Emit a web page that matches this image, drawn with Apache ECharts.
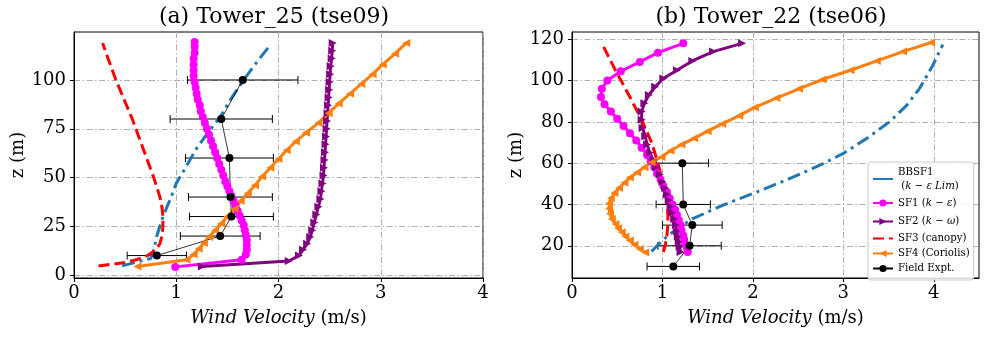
<!DOCTYPE html>
<html>
<head>
<meta charset="utf-8">
<title>Wind velocity profiles</title>
<script src="https://cdn.jsdelivr.net/npm/echarts@6/dist/echarts.min.js"></script>
<style>
  html, body { margin: 0; padding: 0; background: #fff; }
  #chart { width: 990px; height: 337px; }
</style>
</head>
<body>
<div id="chart"></div>
<script>
// ---- (a) Tower_25 (tse09) ----
const bbsf1Z_a = [4.7, 8.5, 11, 15, 20, 25, 30, 35, 40, 47, 55, 65, 73, 81, 90, 100, 110, 118];
const bbsf1V_a = [0.47, 0.75, 0.77, 0.79, 0.81, 0.84, 0.87, 0.91, 0.95, 1.00, 1.09, 1.20, 1.31, 1.43, 1.53, 1.66, 1.80, 1.92];

const sf1Z_a = [4.2, 7.8, 10.5, 13, 15.5, 18, 20.5, 23, 25.5, 28, 30.5, 33, 35.5, 38, 40.5, 43, 45.5, 48,
  51, 54, 57, 60, 63, 66, 69, 72, 75, 78, 81, 84, 87, 90, 93, 96, 99, 102, 105, 108, 111, 114, 117, 119.5];
const sf1V_a = [0.99, 1.64, 1.68, 1.69, 1.69, 1.69, 1.68, 1.67, 1.66, 1.64, 1.62, 1.60, 1.58, 1.56, 1.54, 1.52, 1.50, 1.48,
  1.46, 1.44, 1.42, 1.40, 1.38, 1.36, 1.34, 1.32, 1.30, 1.28, 1.26, 1.24, 1.23, 1.21, 1.20, 1.19, 1.18, 1.17, 1.17, 1.17, 1.17, 1.18, 1.18, 1.18];

const sf2Z_a = [4.4, 7.2, 10, 13, 16, 19.5, 23, 27, 31, 35, 39, 43, 47, 51, 55, 59, 63, 67, 71, 75, 79, 83, 87, 91, 95, 99, 103, 107, 111, 115, 119];
const sf2V_a = [1.25, 2.10, 2.20, 2.24, 2.28, 2.31, 2.33, 2.35, 2.37, 2.39, 2.41, 2.42, 2.43, 2.44, 2.445, 2.45, 2.455, 2.46, 2.465, 2.47,
  2.475, 2.48, 2.485, 2.49, 2.495, 2.50, 2.505, 2.51, 2.52, 2.525, 2.53];

const sf3Z_a = [4.6, 6.5, 8, 10, 12.5, 16, 20, 25, 30, 35, 40, 45, 50, 60, 70, 80, 90, 100, 110, 119];
const sf3V_a = [0.24, 0.50, 0.62, 0.72, 0.79, 0.84, 0.86, 0.87, 0.87, 0.86, 0.84, 0.81, 0.78, 0.71, 0.64, 0.57, 0.49, 0.41, 0.34, 0.28];

const sf4Z_a = [4.4, 7.8, 10.5, 13.5, 16.5, 19.5, 23, 26.5, 30, 34, 38, 42, 46, 50.5, 55, 59.5, 64, 68.5, 73, 78, 83, 88, 93, 98, 103, 108, 113.5, 119];
const sf4V_a = [0.62, 1.10, 1.17, 1.22, 1.27, 1.32, 1.38, 1.44, 1.50, 1.57, 1.63, 1.70, 1.77, 1.84, 1.92, 2.00, 2.08, 2.17, 2.27, 2.39,
  2.49, 2.59, 2.70, 2.81, 2.92, 3.02, 3.14, 3.25];

const fieldZ_a = [10, 20, 30, 40, 60, 80, 100];
const fieldV_a = [0.81, 1.43, 1.54, 1.53, 1.52, 1.44, 1.65];
const fieldErr_a = [0.29, 0.39, 0.41, 0.41, 0.43, 0.50, 0.54];

// ---- (b) Tower_22 (tse06) ----
const bbsf1Z_b = [17.2, 20, 24.5, 28.5, 33, 39.7, 46, 52.6, 59, 64.7, 72, 80, 88, 96, 107.4, 117.4];
const bbsf1V_b = [0.88, 0.94, 1.05, 1.17, 1.33, 1.67, 2.04, 2.41, 2.74, 3.00, 3.26, 3.51, 3.70, 3.84, 3.99, 4.10];

const sf1Z_b = [17, 19, 21, 23, 25, 27.5, 30, 32.5, 35, 37.5, 40, 43, 46, 49, 52, 55, 58, 61, 64,
  67.5, 71, 74.5, 78, 81.5, 85, 88.5, 92, 96, 100, 104.5, 109, 113.5, 118];
const sf1V_b = [1.28, 1.27, 1.25, 1.24, 1.23, 1.21, 1.20, 1.18, 1.16, 1.14, 1.11, 1.08, 1.05, 1.01, 0.98, 0.94, 0.91, 0.87, 0.83,
  0.77, 0.71, 0.64, 0.57, 0.50, 0.43, 0.36, 0.32, 0.33, 0.39, 0.54, 0.75, 0.95, 1.23];

const sf2Z_b = [17, 19.5, 22, 24.5, 27, 30, 33, 36, 39, 42, 45, 48, 51, 54.5, 58, 61.5, 65, 69, 73, 77, 81, 85, 89, 93, 97, 101, 105, 109.5, 114, 118];
const sf2V_b = [1.20, 1.19, 1.18, 1.17, 1.16, 1.15, 1.13, 1.11, 1.09, 1.07, 1.05, 1.03, 1.00, 0.97, 0.93, 0.90, 0.86, 0.83, 0.81, 0.78,
  0.77, 0.77, 0.80, 0.85, 0.92, 1.01, 1.16, 1.33, 1.56, 1.88];

const sf3Z_b = [17, 20, 25, 30, 35, 40, 47, 55, 60, 70, 81, 92, 105, 118];
const sf3V_b = [1.01, 1.03, 1.05, 1.06, 1.06, 1.05, 1.03, 0.98, 0.95, 0.88, 0.77, 0.64, 0.48, 0.33];

const sf4Z_b = [16.8, 18.5, 20.5, 22.5, 24.5, 26.5, 28.5, 30.5, 33, 35.5, 38, 40.5, 43, 45.5, 48, 50.5, 53, 55.5, 58, 60.5, 63,
  66, 69, 72, 75.5, 79, 83, 87, 91.5, 96, 100.5, 105, 109.5, 114, 118.4];
const sf4V_b = [0.81, 0.75, 0.69, 0.64, 0.59, 0.55, 0.51, 0.48, 0.44, 0.42, 0.41, 0.41, 0.43, 0.47, 0.52, 0.58, 0.64, 0.72, 0.80, 0.88, 0.99,
  1.09, 1.21, 1.35, 1.50, 1.66, 1.85, 2.02, 2.26, 2.51, 2.77, 3.08, 3.37, 3.66, 3.97];

const fieldZ_b = [10, 20, 30, 40, 60];
const fieldV_b = [1.12, 1.30, 1.33, 1.23, 1.22];
const fieldErr_b = [0.29, 0.35, 0.33, 0.30, 0.29];

// ticks
const xTicks = [0, 1, 2, 3, 4];
const yTicks_a = [0, 25, 50, 75, 100];
const yTicks_b = [20, 40, 60, 80, 100, 120];

const FONT = 'DejaVu Serif';
const C_BLUE = '#1f77b4', C_MAG = '#ff00ff', C_PUR = '#800080', C_RED = '#ff0000', C_ORA = '#ff7f0e';
const TRI_R = 'path://M0,0L10,5L0,10Z';
const TRI_L = 'path://M10,0L0,5L10,10Z';

function pairs(vs, zs) { return vs.map((v, i) => [v, zs[i]]); }
function triples(vs, zs, es) { return vs.map((v, i) => [v, zs[i], es[i]]); }

const gridLine = { color: '#b0b0b0', width: 1, type: [6, 2.5, 1.5, 2.5] };

function xAxisOf(gi, max) {
  return {
    type: 'value', gridIndex: gi, min: 0, max: max,
    name: '{it|Wind Velocity} (m/s)', nameLocation: 'middle', nameGap: 31,
    nameTextStyle: { fontFamily: FONT, fontSize: 18, color: '#000',
      rich: { it: { fontFamily: FONT, fontStyle: 'italic', fontSize: 18, color: '#000' } } },
    axisLine: { show: true, onZero: false, lineStyle: { color: '#000', width: 1 } },
    axisTick: { show: true, length: 4, customValues: xTicks, lineStyle: { color: '#000' } },
    axisLabel: { customValues: xTicks, fontFamily: FONT, fontSize: 18, color: '#000', margin: 6 },
    splitLine: { show: true, lineStyle: gridLine }
  };
}
function yAxisOf(gi, min, max, ticks) {
  return {
    type: 'value', gridIndex: gi, min: min, max: max,
    name: 'z (m)', nameLocation: 'middle', nameGap: 47, nameRotate: 90,
    nameTextStyle: { fontFamily: FONT, fontSize: 18, color: '#000' },
    axisLine: { show: true, onZero: false, lineStyle: { color: '#000', width: 1 } },
    axisTick: { show: true, length: 4, customValues: ticks, lineStyle: { color: '#000' } },
    axisLabel: { customValues: ticks, fontFamily: FONT, fontSize: 18, color: '#000', margin: 8 },
    splitLine: { show: true, lineStyle: gridLine }
  };
}

function errBars(gi, data) {
  return {
    name: 'errbar' + gi, type: 'custom', xAxisIndex: gi, yAxisIndex: gi, data: data,
    renderItem: function (params, api) {
      const v = api.value(0), z = api.value(1), e = api.value(2);
      const p1 = api.coord([v - e, z]), p2 = api.coord([v + e, z]);
      const st = { stroke: '#000', lineWidth: 1 };
      return { type: 'group', children: [
        { type: 'line', shape: { x1: p1[0], y1: p1[1], x2: p2[0], y2: p2[1] }, style: st },
        { type: 'line', shape: { x1: p1[0], y1: p1[1] - 4, x2: p1[0], y2: p1[1] + 4 }, style: st },
        { type: 'line', shape: { x1: p2[0], y1: p2[1] - 4, x2: p2[0], y2: p2[1] + 4 }, style: st }
      ] };
    }
  };
}

function panelSeries(gi, d) {
  const base = { type: 'line', xAxisIndex: gi, yAxisIndex: gi, smooth: false };
  return [
    Object.assign({}, base, { name: 'BBSF1', data: pairs(d.bbV, d.bbZ), symbol: 'none',
      lineStyle: { color: C_BLUE, width: 3, type: [13, 5, 3, 5] }, itemStyle: { color: C_BLUE } }),
    Object.assign({}, base, { name: 'SF1', data: pairs(d.s1V, d.s1Z), symbol: 'circle', symbolSize: 8,
      lineStyle: { color: C_MAG, width: 3 }, itemStyle: { color: C_MAG } }),
    Object.assign({}, base, { name: 'SF2', data: pairs(d.s2V, d.s2Z), symbol: TRI_R, symbolSize: 8,
      lineStyle: { color: C_PUR, width: 3 }, itemStyle: { color: C_PUR } }),
    Object.assign({}, base, { name: 'SF3', data: pairs(d.s3V, d.s3Z), symbol: 'none',
      lineStyle: { color: C_RED, width: 3, type: [11, 5] }, itemStyle: { color: C_RED } }),
    Object.assign({}, base, { name: 'SF4', data: pairs(d.s4V, d.s4Z), symbol: TRI_L, symbolSize: 8,
      lineStyle: { color: C_ORA, width: 3 }, itemStyle: { color: C_ORA } }),
    errBars(gi, triples(d.fV, d.fZ, d.fE)),
    Object.assign({}, base, { name: 'Field Expt.', data: pairs(d.fV, d.fZ), symbol: 'circle', symbolSize: 8,
      lineStyle: { color: '#000', width: 0.8 }, itemStyle: { color: '#000' } })
  ];
}

const legendText = {
  'BBSF1': 'BBSF1\n ({i|k} − {i|ε Lim})',
  'SF1': 'SF1 ({i|k} − {i|ε})',
  'SF2': 'SF2 ({i|k} − {i|ω})',
  'SF3': 'SF3 (canopy)',
  'SF4': 'SF4 (Coriolis)',
  'Field Expt.': 'Field Expt.'
};
const noMarker = { color: 'rgba(0,0,0,0)', borderWidth: 0 };

const chart = echarts.init(document.getElementById('chart'), null, { renderer: 'canvas' });
chart.setOption({
  animation: false,
  backgroundColor: '#fff',
  title: [
    { text: '(a) Tower_25 (tse09)', left: 269, top: 1, textAlign: 'center',
      textStyle: { fontFamily: FONT, fontSize: 22, fontWeight: 'normal', color: '#000' } },
    { text: '(b) Tower_22 (tse06)', left: 766, top: 1, textAlign: 'center',
      textStyle: { fontFamily: FONT, fontSize: 22, fontWeight: 'normal', color: '#000' } }
  ],
  grid: [
    { left: 74, top: 32, width: 409, height: 246, show: true, borderColor: '#000', borderWidth: 1 },
    { left: 572, top: 32, width: 407, height: 246, show: true, borderColor: '#000', borderWidth: 1 }
  ],
  xAxis: [xAxisOf(0, 4), xAxisOf(1, 4.5)],
  yAxis: [yAxisOf(0, -1.5, 124.6, yTicks_a), yAxisOf(1, 4.4, 123.5, yTicks_b)],
  legend: {
    orient: 'vertical', left: 868, top: 162, itemWidth: 20, itemHeight: 9, itemGap: 2, itemTextGap: 8,
    padding: [3, 4, 5, 4], borderColor: '#cccccc', borderWidth: 1, borderRadius: 3,
    backgroundColor: 'rgba(255,255,255,0.85)', selectedMode: false,
    data: [
      { name: 'BBSF1', itemStyle: noMarker, lineStyle: { type: 'solid' }, textStyle: { lineHeight: 14 } },
      { name: 'SF1', textStyle: { lineHeight: 16 } },
      { name: 'SF2', textStyle: { lineHeight: 17 } },
      { name: 'SF3', itemStyle: noMarker, textStyle: { lineHeight: 13 } },
      { name: 'SF4', textStyle: { lineHeight: 13 } },
      { name: 'Field Expt.', textStyle: { lineHeight: 13 } }
    ],
    formatter: function (name) { return legendText[name]; },
    textStyle: { fontFamily: FONT, fontSize: 10.2, color: '#000',
      rich: { i: { fontFamily: FONT, fontStyle: 'italic', fontSize: 10.2, color: '#000' } } }
  },
  series: [].concat(
    panelSeries(0, { bbV: bbsf1V_a, bbZ: bbsf1Z_a, s1V: sf1V_a, s1Z: sf1Z_a, s2V: sf2V_a, s2Z: sf2Z_a,
      s3V: sf3V_a, s3Z: sf3Z_a, s4V: sf4V_a, s4Z: sf4Z_a, fV: fieldV_a, fZ: fieldZ_a, fE: fieldErr_a }),
    panelSeries(1, { bbV: bbsf1V_b, bbZ: bbsf1Z_b, s1V: sf1V_b, s1Z: sf1Z_b, s2V: sf2V_b, s2Z: sf2Z_b,
      s3V: sf3V_b, s3Z: sf3Z_b, s4V: sf4V_b, s4Z: sf4Z_b, fV: fieldV_b, fZ: fieldZ_b, fE: fieldErr_b })
  )
});
</script>
</body>
</html>
